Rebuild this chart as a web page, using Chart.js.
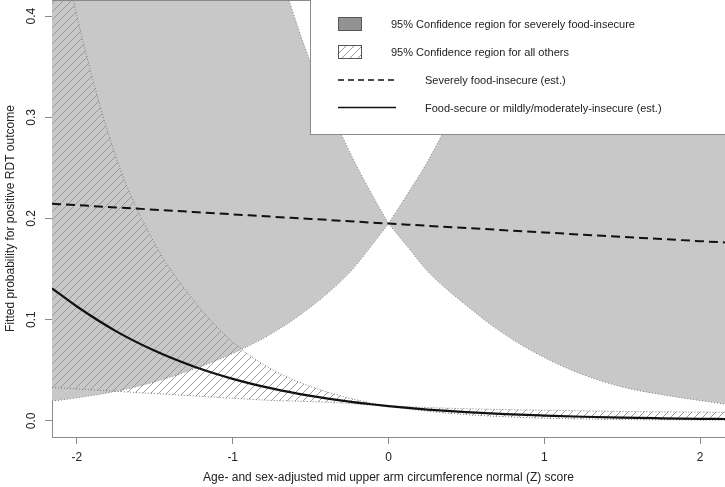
<!DOCTYPE html>
<html>
<head>
<meta charset="utf-8">
<script src="https://cdn.jsdelivr.net/npm/chart.js@4.4.1/dist/chart.umd.min.js"></script>
<style>
  html, body { margin: 0; padding: 0; background: #fff; }
  #wrap { width: 725px; height: 487px; position: relative; }
</style>
</head>
<body>
<div id="wrap"><canvas id="c"></canvas></div>
<script>
// ---- data ----
const zScores = [-2.16, -2, -1.75, -1.5, -1.25, -1, -0.75, -0.5, -0.25, -0.125, 0, 0.125, 0.25, 0.5, 0.75, 1, 1.25, 1.5, 1.75, 2, 2.16];
const estSevere = [0.2147, 0.2132, 0.2109, 0.2087, 0.2064, 0.2041, 0.2018, 0.1996, 0.1973, 0.1961, 0.1950, 0.1939, 0.1928, 0.1906, 0.1884, 0.1862, 0.1840, 0.1819, 0.1797, 0.1776, 0.1763];
const estOthers = [0.131, 0.113, 0.0887, 0.0692, 0.0537, 0.0415, 0.0320, 0.0246, 0.0189, 0.0166, 0.0145, 0.0127, 0.0111, 0.0085, 0.0066, 0.0052, 0.0040, 0.0031, 0.0025, 0.0020, 0.0018];
const severeUpper = [0.92, 0.90, 0.85, 0.78, 0.70, 0.584, 0.468, 0.354, 0.266, 0.229, 0.195, 0.225, 0.256, 0.332, 0.42, 0.52, 0.62, 0.70, 0.77, 0.83, 0.86];
const severeLower = [0.0194, 0.0227, 0.0292, 0.0386, 0.0511, 0.0666, 0.0862, 0.1125, 0.1465, 0.1700, 0.195, 0.1715, 0.1480, 0.1140, 0.0850, 0.0625, 0.0455, 0.0335, 0.0260, 0.0200, 0.0165];
const othersUpper = [0.52, 0.40, 0.261, 0.175, 0.119, 0.078, 0.051, 0.0339, 0.0224, 0.018, 0.0145, 0.0139, 0.0131, 0.0120, 0.0111, 0.0105, 0.0098, 0.0093, 0.0089, 0.0086, 0.0084];
const othersLower = [0.033, 0.0315, 0.0292, 0.0269, 0.0246, 0.0223, 0.0202, 0.0190, 0.0171, 0.0157, 0.0145, 0.0118, 0.0095, 0.0061, 0.0040, 0.0026, 0.0018, 0.0013, 0.0010, 0.0008, 0.0007];
const xTicks = [-2, -1, 0, 1, 2];
const yTicks = [0, 0.1, 0.2, 0.3, 0.4];
const legendLabels = [
  "95% Confidence region for severely food-insecure",
  "95% Confidence region for all others",
  "Severely food-insecure (est.)",
  "Food-secure or mildly/moderately-insecure (est.)"
];
const xTitle = "Age- and sex-adjusted mid upper arm circumference normal (Z) score";
const yTitle = "Fitted probability for positive RDT outcome";

const FONT = "'Liberation Sans', Arial, Helvetica, sans-serif";
const pinchIndex = zScores.indexOf(0);
const toPts = arr => arr.map((v, i) => ({ x: zScores[i], y: v }));
const leftPts = arr => toPts(arr).slice(0, pinchIndex + 1);
const rightPts = arr => toPts(arr).slice(pinchIndex);

const canvas = document.getElementById('c');
const mainCtx = canvas.getContext('2d');
function makeHatch() {
  const t = document.createElement('canvas');
  t.width = 8; t.height = 8;
  const g = t.getContext('2d');
  g.strokeStyle = '#9a9a9a';
  g.lineWidth = 1;
  g.beginPath();
  g.moveTo(0, 8); g.lineTo(8, 0);
  g.moveTo(-2, 2); g.lineTo(2, -2);
  g.moveTo(6, 10); g.lineTo(10, 6);
  g.stroke();
  return mainCtx.createPattern(t, 'repeat');
}
const hatch = makeHatch();

const dotted = { borderColor: '#7a7a7a', borderWidth: 1, borderDash: [1, 2], pointRadius: 0, cubicInterpolationMode: 'monotone' };
const band = (label, data, fill, bg) => Object.assign({ label, data, fill, backgroundColor: bg }, dotted);

const legendPlugin = {
  id: 'rLegend',
  afterDraw(chart) {
    const ctx = chart.ctx;
    const ca = chart.chartArea;
    ctx.save();
    ctx.strokeStyle = '#8a8a8a';
    ctx.lineWidth = 1;
    ctx.beginPath();
    ctx.moveTo(ca.left, 0.5); ctx.lineTo(ca.right, 0.5);
    ctx.stroke();
    const bx = 310.5, by = -1, bw = 420, bh = 135.5;
    ctx.fillStyle = '#ffffff';
    ctx.fillRect(bx, by, bw, bh);
    ctx.strokeStyle = '#8a8a8a';
    ctx.strokeRect(bx, by, bw, bh);
    ctx.fillStyle = '#939393';
    ctx.fillRect(338, 17, 24, 14);
    ctx.strokeStyle = '#555';
    ctx.strokeRect(338.5, 17.5, 23, 13);
    ctx.fillStyle = hatch;
    ctx.fillRect(338, 45, 24, 14);
    ctx.strokeStyle = '#555';
    ctx.strokeRect(338.5, 45.5, 23, 13);
    ctx.strokeStyle = '#111';
    ctx.lineWidth = 1.6;
    ctx.setLineDash([6, 4]);
    ctx.beginPath(); ctx.moveTo(338, 80); ctx.lineTo(394, 80); ctx.stroke();
    ctx.setLineDash([]);
    ctx.beginPath(); ctx.moveTo(338, 107.5); ctx.lineTo(396, 107.5); ctx.stroke();
    ctx.fillStyle = '#222';
    ctx.font = '11px ' + FONT;
    ctx.textBaseline = 'middle';
    ctx.textAlign = 'left';
    ctx.fillText(legendLabels[0], 391, 25);
    ctx.fillText(legendLabels[1], 391, 52.5);
    ctx.fillText(legendLabels[2], 425, 81);
    ctx.fillText(legendLabels[3], 425, 109);
    ctx.restore();
  }
};

new Chart(canvas, {
  type: 'line',
  data: {
    datasets: [
      { label: legendLabels[3], data: toPts(estOthers), borderColor: '#111', borderWidth: 2.2, pointRadius: 0, fill: false, cubicInterpolationMode: 'monotone' },
      { label: legendLabels[2], data: toPts(estSevere), borderColor: '#111', borderWidth: 2, borderDash: [9, 5], pointRadius: 0, fill: false, cubicInterpolationMode: 'monotone' },
      band('others upper L', leftPts(othersUpper), '+1', hatch),
      band('others lower L', leftPts(othersLower), false),
      band('others upper R', rightPts(othersUpper), '+1', hatch),
      band('others lower R', rightPts(othersLower), false),
      band('severe upper L', leftPts(severeUpper), '+1', '#c8c8c8'),
      band('severe lower L', leftPts(severeLower), false),
      band('severe upper R', rightPts(severeUpper), '+1', '#c8c8c8'),
      band('severe lower R', rightPts(severeLower), false)
    ]
  },
  options: {
    responsive: true,
    maintainAspectRatio: false,
    animation: false,
    devicePixelRatio: 1,
    layout: { padding: 0 },
    plugins: {
      legend: { display: false },
      tooltip: { enabled: false },
      filler: { drawTime: 'beforeDatasetsDraw' }
    },
    scales: {
      x: {
        type: 'linear',
        position: 'bottom',
        min: -2.16,
        max: 2.16,
        border: { display: true, color: '#8a8a8a', width: 1 },
        grid: { display: true, drawOnChartArea: false, drawTicks: true, tickLength: 7, tickColor: '#8a8a8a' },
        ticks: { color: '#222', font: { size: 12, family: FONT }, padding: 6, maxRotation: 0, autoSkip: false, callback: v => String(v) },
        title: { display: true, text: xTitle, color: '#222', font: { size: 12, family: FONT }, padding: { top: 0, bottom: 2 } },
        afterBuildTicks: s => { s.ticks = xTicks.map(v => ({ value: v })); },
        afterFit: s => { s.height = 50; s.paddingLeft = 0; s.paddingRight = 0; }
      },
      y: {
        type: 'linear',
        position: 'left',
        min: -0.016,
        max: 0.416,
        border: { display: true, color: '#8a8a8a', width: 1 },
        grid: { display: true, drawOnChartArea: false, drawTicks: true, tickLength: 7, tickColor: '#8a8a8a' },
        ticks: { color: '#222', font: { size: 12, family: FONT }, padding: 5, minRotation: 90, maxRotation: 90, crossAlign: 'center', autoSkip: false, callback: v => v.toFixed(1) },
        title: { display: true, text: yTitle, color: '#222', font: { size: 12, family: FONT }, padding: { top: 3, bottom: 0 } },
        afterBuildTicks: s => { s.ticks = yTicks.map(v => ({ value: v })); },
        afterFit: s => { s.width = 52; s.paddingTop = 0; s.paddingBottom = 0; }
      }
    }
  },
  plugins: [legendPlugin]
});
</script>
</body>
</html>
